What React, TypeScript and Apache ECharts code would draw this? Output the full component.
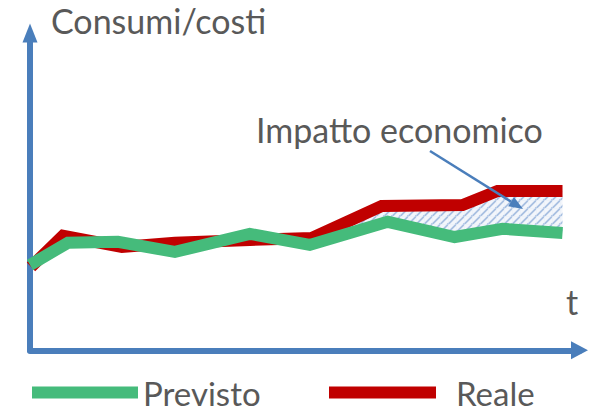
import React, { useEffect, useRef } from 'react';
import * as echarts from 'echarts';

// Time positions and values of the planned (Previsto) and actual (Reale) curves
const previstoT = [0, 3.8, 8.8, 14.5, 22, 28, 35.8, 42.5, 47.3, 53.3];
const previsto = [26.9, 33.9, 34.2, 31.0, 36.7, 33.2, 40.5, 35.7, 38.3, 37.0];
const realeT = [0.1, 3.3, 9.2, 14.5, 22, 28.2, 35.2, 43.3, 46.8, 53.3];
const reale = [26.3, 36.1, 32.6, 33.9, 34.8, 35.4, 45.5, 45.8, 50.2, 50.2];

// The economic impact is shaded from this time onwards
const impattoDa = 28;

const TITLE = 'Consumi/costi';
const ANNOTATION = 'Impatto economico';
const TIME_LABEL = 't';

const AXIS_BLUE = '#4a7ebb';
const GREEN = '#45bb7b';
const RED = '#c00000';
const TEXT_GREY = '#595959';
const FONT = 'Lato';
const FONT_SIZE = 34;
const LEGEND_FONT_SIZE = 33;

const hatchSvg =
  "<svg xmlns='http://www.w3.org/2000/svg' width='8' height='8'>" +
  "<rect width='8' height='8' fill='#f3f6fb'/>" +
  "<path d='M0 8.5 L8.5 0 M-1 1 L1 -1 M7 9 L9 7' stroke='#a8c0e2' stroke-width='1.8'/>" +
  "<path d='M0 0 H8 M0 0 V8' stroke='#dde6f3' stroke-width='0.6'/>" +
  '</svg>';
const hatchUrl = 'data:image/svg+xml;charset=utf-8,' + encodeURIComponent(hatchSvg);

export default function App() {
  const ref = useRef<HTMLDivElement>(null);

  useEffect(() => {
    if (!ref.current) return;
    const chart = echarts.init(ref.current, undefined, { renderer: 'svg' });

    const toPairs = (t: number[], v: number[]) => t.map((x, i) => [x, v[i]]);

    const option: any = {
      animation: false,
      backgroundColor: '#ffffff',
      grid: { left: 30, right: 14.5, top: 33, bottom: 60.7, containLabel: false },
      xAxis: {
        type: 'value',
        min: 0,
        max: 55,
        axisLine: {
          show: true,
          lineStyle: { color: AXIS_BLUE, width: 6 },
          symbol: ['none', 'triangle'],
          symbolSize: [18, 17],
        },
        axisTick: { show: false },
        axisLabel: { show: false },
        splitLine: { show: false },
      },
      yAxis: {
        type: 'value',
        min: 0,
        max: 100,
        axisLine: {
          show: true,
          onZero: false,
          lineStyle: { color: AXIS_BLUE, width: 6 },
          symbol: ['none', 'triangle'],
          symbolSize: [15, 19],
        },
        axisTick: { show: false },
        axisLabel: { show: false },
        splitLine: { show: false },
      },
      legend: [
        {
          data: ['Previsto'],
          left: 32,
          top: 376,
          padding: 0,
          icon: 'rect',
          itemWidth: 106,
          itemHeight: 12,
          textStyle: { fontFamily: FONT, fontSize: LEGEND_FONT_SIZE, color: TEXT_GREY },
          selectedMode: false,
        },
        {
          data: ['Reale'],
          left: 329,
          top: 376,
          padding: 0,
          icon: 'rect',
          itemWidth: 107,
          itemHeight: 12,
          textStyle: {
            fontFamily: FONT,
            fontSize: LEGEND_FONT_SIZE,
            color: TEXT_GREY,
            padding: [0, 0, 0, 15],
          },
          selectedMode: false,
        },
      ],
      series: [
        {
          name: 'Impatto economico',
          type: 'custom',
          data: [[impattoDa, 0]],
          z: 1,
          renderItem: (_params: any, api: any) => {
            const top = realeT
              .map((t, i) => [t, reale[i]])
              .filter((p) => p[0] >= impattoDa);
            const bottom = previstoT
              .map((t, i) => [t, previsto[i]])
              .filter((p) => p[0] >= impattoDa)
              .reverse();
            const points = top.concat(bottom).map((p) => api.coord(p));
            return {
              type: 'polygon',
              shape: { points },
              style: {
                fill: {
                  image: hatchUrl,
                  repeat: 'repeat',
                  imageWidth: 8,
                  imageHeight: 8,
                },
                stroke: 'none',
              },
            };
          },
        },
        {
          name: 'Reale',
          type: 'line',
          data: toPairs(realeT, reale),
          showSymbol: false,
          symbol: 'none',
          z: 2,
          itemStyle: { color: RED },
          lineStyle: { color: RED, width: 12, cap: 'butt', join: 'miter' },
        },
        {
          name: 'Previsto',
          type: 'line',
          data: toPairs(previstoT, previsto),
          showSymbol: false,
          symbol: 'none',
          z: 3,
          itemStyle: { color: GREEN },
          lineStyle: { color: GREEN, width: 12, cap: 'butt', join: 'miter' },
        },
      ],
      graphic: [
        {
          type: 'text',
          left: 51,
          top: 3,
          style: { text: TITLE, fontFamily: FONT, fontSize: FONT_SIZE, fill: TEXT_GREY },
        },
        {
          type: 'text',
          left: 256,
          top: 112,
          style: { text: ANNOTATION, fontFamily: FONT, fontSize: FONT_SIZE, fill: TEXT_GREY },
        },
        {
          type: 'text',
          left: 566,
          top: 284,
          style: { text: TIME_LABEL, fontFamily: FONT, fontSize: FONT_SIZE, fill: TEXT_GREY },
        },
        {
          type: 'line',
          shape: { x1: 430, y1: 151, x2: 511, y2: 201.6 },
          style: { stroke: AXIS_BLUE, lineWidth: 2.5 },
          z: 10,
        },
        {
          type: 'polygon',
          shape: { points: [[523, 209], [508.2, 206.3], [514.0, 196.9]] },
          style: { fill: AXIS_BLUE },
          z: 10,
        },
      ],
    };

    chart.setOption(option);
    return () => chart.dispose();
  }, []);

  return (
    <div
      ref={ref}
      style={{ position: 'fixed', left: 0, top: 0, width: 594, height: 411, background: '#fff' }}
    />
  );
}
